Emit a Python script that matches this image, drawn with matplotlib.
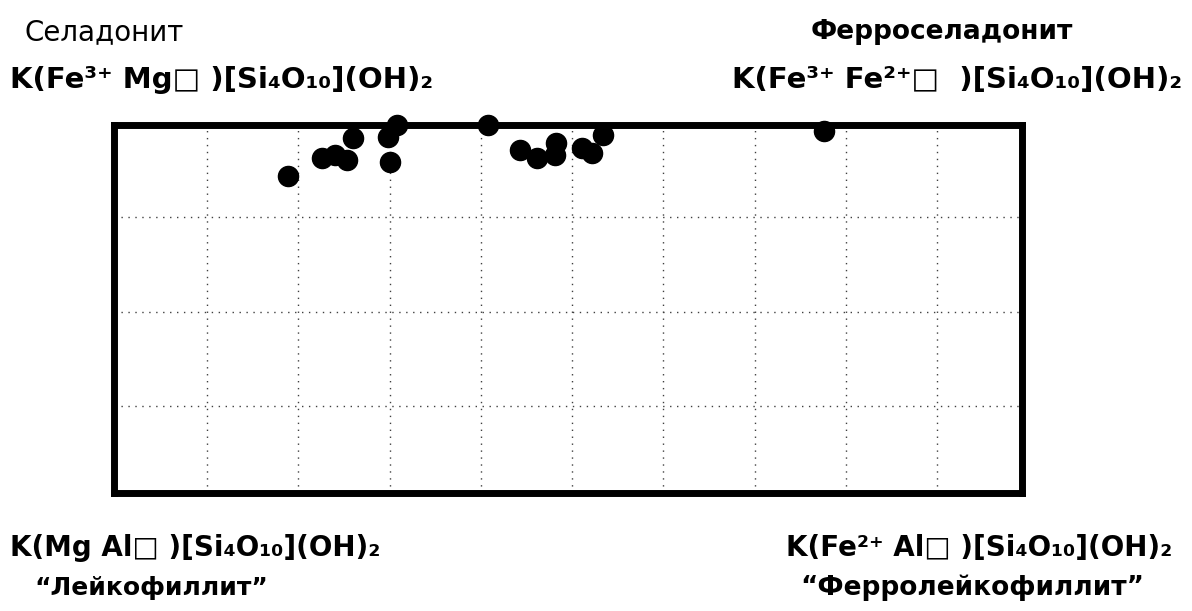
import numpy as np
import matplotlib
matplotlib.use("Agg")
import matplotlib.pyplot as plt

plt.rcParams['font.family'] = ['DejaVu Sans']

# точки (доли: x - к Fe2+, y - к Fe3+)
x_vals = [0.189, 0.226, 0.240, 0.253, 0.260, 0.298, 0.308, 0.300, 0.408,
          0.443, 0.462, 0.482, 0.481, 0.511, 0.522, 0.534, 0.776]
y_vals = [0.860, 0.908, 0.916, 0.902, 0.961, 0.963, 0.995, 0.897, 0.995,
          0.929, 0.908, 0.947, 0.916, 0.934, 0.921, 0.969, 0.979]

x_grid = [0.1, 0.2, 0.3, 0.4, 0.5, 0.6, 0.7, 0.8, 0.9]
y_grid = [0.25, 0.5, 0.75]

top_left_name = "Селадонит"
top_left_formula = "K(Fe³⁺ Mg□ )[Si₄O₁₀](OH)₂"
top_right_name = "Ферроселадонит"
top_right_formula = "K(Fe³⁺ Fe²⁺□  )[Si₄O₁₀](OH)₂"
bottom_left_formula = "K(Mg Al□ )[Si₄O₁₀](OH)₂"
bottom_left_name = "“Лейкофиллит”"
bottom_right_formula = "K(Fe²⁺ Al□ )[Si₄O₁₀](OH)₂"
bottom_right_name = "“Ферролейкофиллит”"

W, H = 1192, 611
fig = plt.figure(figsize=(W / 100, H / 100), dpi=100)
ax = fig.add_axes([114 / W, 1 - 493 / H, 908 / W, 368 / H])

ax.scatter(x_vals, y_vals, s=210, color="black", edgecolors="black",
           zorder=3, clip_on=False)

ax.set_xlim(-0.002, 0.993)
ax.set_ylim(0.02, 0.995)
ax.set_xticks(x_grid)
ax.set_yticks(y_grid)
ax.tick_params(length=0, labelbottom=False, labelleft=False)
ax.grid(True, linestyle=(0, (1, 4)), color="0.25", linewidth=1.0)
for sp in ax.spines.values():
    sp.set_linewidth(5)
    sp.set_color("black")

def put(px, py, s, **kw):
    fig.text(px / W, 1 - py / H, s, va="center", **kw)

put(25, 32, top_left_name, fontsize=20, ha="left")
put(10, 80, top_left_formula, fontsize=21, fontweight="bold", ha="left")
put(942, 32, top_right_name, fontsize=19, fontweight="bold", ha="center")
put(732, 80, top_right_formula, fontsize=21, fontweight="bold", ha="left")
put(10, 548, bottom_left_formula, fontsize=20, fontweight="bold", ha="left")
put(34, 588, bottom_left_name, fontsize=18, fontweight="bold", ha="left")
put(786, 548, bottom_right_formula, fontsize=20, fontweight="bold", ha="left")
put(972, 588, bottom_right_name, fontsize=19, fontweight="bold", ha="center")

fig.savefig("out.png", dpi=100, facecolor="white")
